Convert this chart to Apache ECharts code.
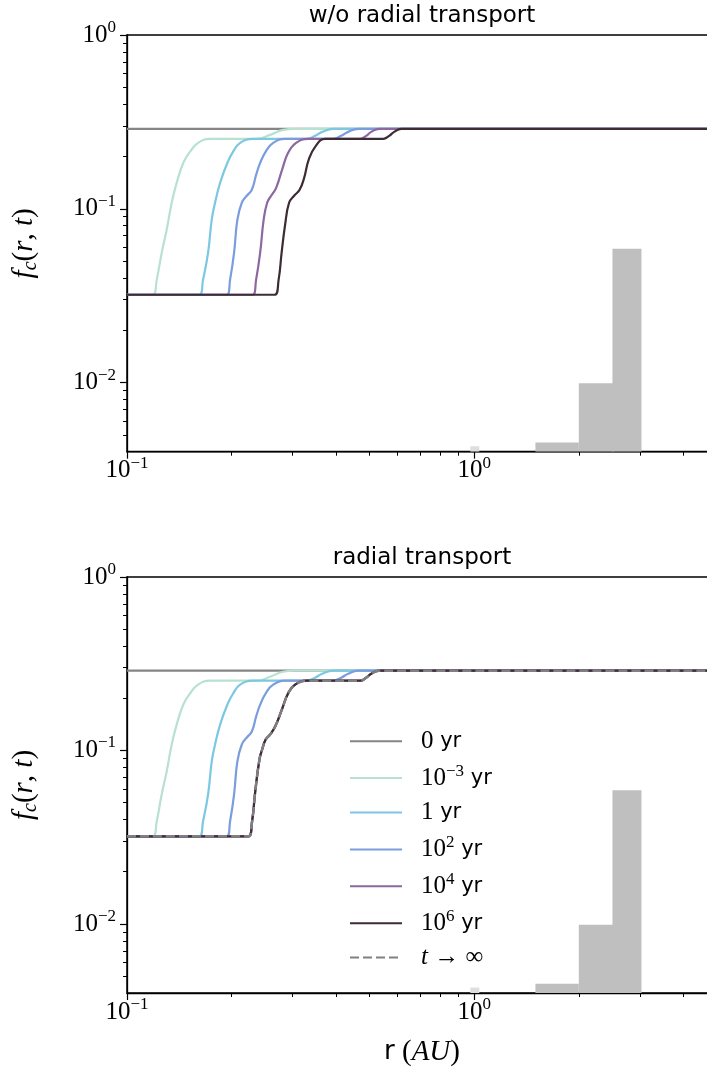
<!DOCTYPE html>
<html>
<head>
<meta charset="UTF-8">
<title>f_c(r,t): without and with radial transport</title>
<script src="https://cdn.jsdelivr.net/npm/echarts@6/dist/echarts.min.js"></script>
<style>
  html, body { margin: 0; padding: 0; overflow: hidden; background: #fff; }
  /* a bit wider than the window: the right spine falls just outside, like the original */
  #chart { width: 717px; height: 1069px; }
</style>
</head>
<body>
<div id="chart"></div>
<script>
  // ---- axes ----
  var xMin = 0.1, xMax = 5;
  var yMin = 0.004, yMax = 1;
  var xMajor = [0.1, 1];
  var xMajorExp = ['−1', '0'];
  var xMinor = [0.2, 0.3, 0.4, 0.5, 0.6, 0.7, 0.8, 0.9, 2, 3, 4];
  var yMajor = [0.01, 0.1, 1];
  var yMajorExp = ['−2', '−1', '0'];
  var yMinor = [0.005, 0.006, 0.007, 0.008, 0.009,
                0.02, 0.03, 0.04, 0.05, 0.06, 0.07, 0.08, 0.09,
                0.2, 0.3, 0.4, 0.5, 0.6, 0.7, 0.8, 0.9];

  // ---- legend ----
  var seriesNames = ['0 yr', '1e-3 yr', '1 yr', '1e2 yr', '1e4 yr', '1e6 yr', 't→∞'];
  var legendLabels = ['{n|0}{y| yr}', '{n|10}{s|−3}{y| yr}', '{n|1}{y| yr}',
                      '{n|10}{s|2}{y| yr}', '{n|10}{s|4}{y| yr}', '{n|10}{s|6}{y| yr}',
                      '{i|t}{n| → ∞}'];
  var colors = ['#858585', '#b8e1d0', '#7cc8e1', '#7b9ddd', '#8d679f', '#3d2b36', '#808080'];

  // ---- histogram: [left edge, right edge, height] ----
  var histBins = [[1.5, 2.0, 0.00452], [2.0, 2.52, 0.0099], [2.5, 3.03, 0.0589]];
  var histFaint = [[0.974, 1.034, 0.0043]];

  // ---- curves [r (AU), f_c] ----
  var t0 = [[0.1, 0.2884], [5, 0.2884]];
  var t1e3 = [[0.1, 0.032], [0.1186, 0.032], [0.1218, 0.0391], [0.1259, 0.0559], [0.1301, 0.0757],
              [0.1345, 0.1083], [0.1390, 0.141], [0.1453, 0.184], [0.1519, 0.213], [0.1602, 0.2395],
              [0.1734, 0.2525], [0.2369, 0.2525], [0.2583, 0.2662], [0.2815, 0.2844], [0.3048, 0.2884],
              [5, 0.2884]];
  var t1 = [[0.1, 0.032], [0.1616, 0.032], [0.1656, 0.0391], [0.1712, 0.0559], [0.1754, 0.0865],
            [0.1793, 0.1083], [0.1854, 0.141], [0.1946, 0.184], [0.2021, 0.213], [0.2117, 0.2395],
            [0.2307, 0.2525], [0.3302, 0.2525], [0.3482, 0.2628], [0.3648, 0.277], [0.3925, 0.2884],
            [5, 0.2884]];
  var t1e2 = [[0.1, 0.032], [0.1938, 0.032], [0.1981, 0.0391], [0.2034, 0.0559], [0.2079, 0.0865],
              [0.2141, 0.1083], [0.2213, 0.1188], [0.2288, 0.1286], [0.2354, 0.1568], [0.2418, 0.1837],
              [0.2516, 0.2154], [0.2636, 0.2395], [0.2853, 0.2525], [0.3925, 0.2525], [0.4138, 0.2628],
              [0.4335, 0.277], [0.4632, 0.2884], [5, 0.2884]];
  var t1e4 = [[0.1, 0.032], [0.2300, 0.032], [0.2354, 0.0391], [0.2418, 0.0559], [0.2475, 0.0865],
              [0.2533, 0.1083], [0.2601, 0.1188], [0.2688, 0.132], [0.2796, 0.1675], [0.2910, 0.2098],
              [0.3069, 0.2395], [0.3324, 0.2525], [0.4693, 0.2525], [0.4884, 0.2628], [0.5049, 0.277],
              [0.5324, 0.2884], [5, 0.2884]];
  var t1e6 = [[0.1, 0.032], [0.2662, 0.032], [0.2733, 0.0391], [0.2788, 0.0559], [0.2853, 0.0809],
              [0.2929, 0.1083], [0.3029, 0.1188], [0.3141, 0.1286], [0.3237, 0.1507], [0.3335, 0.1912],
              [0.3482, 0.2272], [0.3721, 0.2525], [0.5467, 0.2525], [0.5689, 0.2628], [0.5881, 0.277],
              [0.6161, 0.2884], [5, 0.2884]];
  // with radial transport the late curves all fall on this one
  var tLate = [[0.1, 0.032], [0.2237, 0.032], [0.2292, 0.0391], [0.2339, 0.0574], [0.2407, 0.0888],
               [0.2450, 0.1013], [0.2508, 0.1157], [0.2583, 0.1236], [0.2671, 0.1374], [0.2792, 0.172],
               [0.2916, 0.2154], [0.3048, 0.2395], [0.3296, 0.2525], [0.4693, 0.2525], [0.4884, 0.2628],
               [0.5049, 0.277], [0.5324, 0.2884], [5, 0.2884]];

  var serif = '"Liberation Serif", "DejaVu Serif", serif';
  var sans = '"DejaVu Sans", sans-serif';

  var tickRich = {
    b: { fontFamily: serif, fontSize: 25, lineHeight: 32, color: '#000' },
    s: { fontFamily: serif, fontSize: 17, lineHeight: 15, verticalAlign: 'top', color: '#000' }
  };

  function expLabel(values, exps) {
    return function (v) {
      for (var i = 0; i < values.length; i++) {
        if (Math.abs(Math.log10(v) - Math.log10(values[i])) < 1e-6) {
          return '{b|10}{s|' + exps[i] + '}';
        }
      }
      return '';
    };
  }

  var axisLine = { show: true, onZero: false, lineStyle: { color: '#000', width: 1.3 } };

  function xAxes(g, withName) {
    return [{
      type: 'log', logBase: 10, gridIndex: g, position: 'bottom', min: xMin, max: xMax,
      axisLine: axisLine,
      axisTick: { show: true, length: 7, customValues: xMajor, lineStyle: { color: '#000', width: 1.2 } },
      axisLabel: { customValues: xMajor, formatter: expLabel(xMajor, xMajorExp), rich: tickRich, margin: 3 },
      splitLine: { show: false },
      name: withName ? '{r|r}{b| (}{i|AU}{b|)}' : '',
      nameLocation: 'middle', nameGap: 43,
      nameTextStyle: {
        rich: {
          r: { fontFamily: sans, fontSize: 26, lineHeight: 32, color: '#000' },
          b: { fontFamily: serif, fontSize: 29, lineHeight: 32, color: '#000' },
          i: { fontFamily: serif, fontStyle: 'italic', fontSize: 29, lineHeight: 32, color: '#000' }
        }
      }
    }, {
      type: 'log', logBase: 10, gridIndex: g, position: 'bottom', min: xMin, max: xMax,
      axisLine: { show: false },
      axisTick: { show: true, length: 4, customValues: xMinor, lineStyle: { color: '#000', width: 1 } },
      axisLabel: { show: false },
      splitLine: { show: false }
    }];
  }

  function yAxes(g) {
    return [{
      type: 'log', logBase: 10, gridIndex: g, position: 'left', min: yMin, max: yMax,
      axisLine: axisLine,
      axisTick: { show: true, length: 7, customValues: yMajor, lineStyle: { color: '#000', width: 1.2 } },
      axisLabel: { customValues: yMajor, formatter: expLabel(yMajor, yMajorExp), rich: tickRich, margin: 11 },
      splitLine: { show: false },
      name: '{i|f}{c|c}{b|(}{i|r}{b|, }{i|t}{b|)}',
      nameLocation: 'middle', nameRotate: 90, nameGap: 86,
      nameTextStyle: {
        rich: {
          i: { fontFamily: serif, fontStyle: 'italic', fontSize: 29, lineHeight: 34, color: '#000' },
          c: { fontFamily: serif, fontStyle: 'italic', fontSize: 20, lineHeight: 26, verticalAlign: 'bottom', color: '#000' },
          b: { fontFamily: serif, fontSize: 29, lineHeight: 34, color: '#000' }
        }
      }
    }, {
      type: 'log', logBase: 10, gridIndex: g, position: 'left', min: yMin, max: yMax,
      axisLine: { show: false },
      axisTick: { show: true, length: 4, customValues: yMinor, lineStyle: { color: '#000', width: 1 } },
      axisLabel: { show: false },
      splitLine: { show: false }
    }];
  }

  function histSeries(g, data, color) {
    return {
      type: 'custom', xAxisIndex: 2 * g, yAxisIndex: 2 * g, silent: true, clip: true, z: 1,
      encode: { x: [0, 1], y: 2 },
      data: data,
      renderItem: function (params, api) {
        var p0 = api.coord([api.value(0), api.value(2)]);
        var p1 = api.coord([api.value(1), api.value(2)]);
        var bottom = params.coordSys.y + params.coordSys.height;
        return {
          type: 'rect',
          shape: { x: p0[0], y: p0[1], width: p1[0] - p0[0], height: bottom - p0[1] },
          style: { fill: color }
        };
      }
    };
  }

  function line(g, k, data, extra) {
    var s = {
      name: seriesNames[k], type: 'line', xAxisIndex: 2 * g, yAxisIndex: 2 * g,
      data: data, showSymbol: false, symbol: 'none', smooth: 0.45, z: 2 + k,
      lineStyle: { color: colors[k], width: 2.2 },
      itemStyle: { color: colors[k] }
    };
    if (extra) s.lineStyle = extra;
    return s;
  }

  var dashed = { color: colors[6], width: 2.5, type: [9, 4] };

  var series = [
    histSeries(0, histBins, '#bfbfbf'), histSeries(0, histFaint, '#dedede'),
    line(0, 0, t0), line(0, 1, t1e3), line(0, 2, t1), line(0, 3, t1e2), line(0, 4, t1e4), line(0, 5, t1e6),
    histSeries(1, histBins, '#bfbfbf'), histSeries(1, histFaint, '#dedede'),
    line(1, 0, t0), line(1, 1, t1e3), line(1, 2, t1), line(1, 3, t1e2), line(1, 4, tLate), line(1, 5, tLate),
    line(1, 6, tLate, dashed)
  ];

  var chart = echarts.init(document.getElementById('chart'));
  chart.setOption({
    animation: false,
    backgroundColor: '#fff',
    title: [
      { text: 'w/o radial transport', left: 422, top: 5, textAlign: 'center', padding: 0,
        textStyle: { fontFamily: sans, fontSize: 23, fontWeight: 'normal', color: '#000' } },
      { text: 'radial transport', left: 422, top: 547, textAlign: 'center', padding: 0,
        textStyle: { fontFamily: sans, fontSize: 23, fontWeight: 'normal', color: '#000' } }
    ],
    grid: [
      { left: 127, right: 0, top: 35, height: 416.7, show: true, borderColor: '#000', borderWidth: 1.5, outerBoundsMode: 'none' },
      { left: 127, right: 0, top: 577, height: 416, show: true, borderColor: '#000', borderWidth: 1.5, outerBoundsMode: 'none' }
    ],
    xAxis: xAxes(0, false).concat(xAxes(1, true)),
    yAxis: yAxes(0).concat(yAxes(1)),
    legend: {
      data: seriesNames, orient: 'vertical', left: 349, top: 728.7, padding: 0,
      itemWidth: 52, itemHeight: 14, itemGap: 9.4,
      itemStyle: { opacity: 0 },
      formatter: function (name) { return legendLabels[seriesNames.indexOf(name)]; },
      textStyle: {
        padding: [0, 0, 0, 14],
        rich: {
          n: { fontFamily: serif, fontSize: 25, lineHeight: 30, color: '#000' },
          s: { fontFamily: serif, fontSize: 17, lineHeight: 14, verticalAlign: 'top', color: '#000' },
          y: { fontFamily: sans, fontSize: 21, lineHeight: 30, color: '#000' },
          i: { fontFamily: serif, fontStyle: 'italic', fontSize: 25, lineHeight: 30, color: '#000' }
        }
      },
      selectedMode: false
    },
    series: series
  });
</script>
</body>
</html>
